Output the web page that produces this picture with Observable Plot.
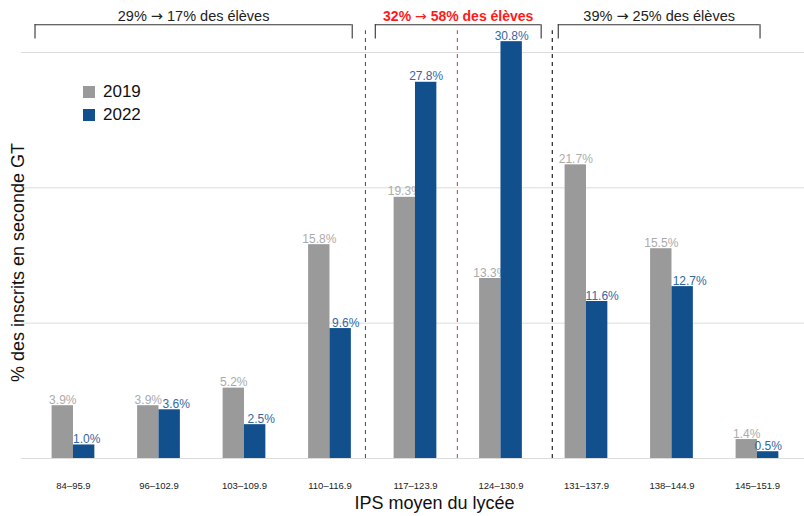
<!DOCTYPE html>
<html>
<head>
<meta charset="utf-8">
<script src="https://cdn.jsdelivr.net/npm/d3@7"></script>
<script src="https://cdn.jsdelivr.net/npm/@observablehq/plot@0.6"></script>
<style>
  html, body { margin: 0; padding: 0; background: #fff; }
  #wrap { position: relative; width: 804px; height: 516px; font-family: "Liberation Sans", Arial, Helvetica, sans-serif; }
  #legend { position: absolute; left: 83px; top: 80px; font-size: 17px; color: #111; line-height: 23px; }
  #legend .row { display: flex; align-items: center; }
  #legend .sw { width: 12px; height: 12px; margin-right: 8px; }
</style>
</head>
<body>
<div id="wrap"></div>
<script>
// ---- data ----
const categories = ["84–95.9", "96–102.9", "103–109.9", "110–116.9", "117–123.9", "124–130.9", "131–137.9", "138–144.9", "145–151.9"];
const values2019 = [3.9, 3.9, 5.2, 15.8, 19.3, 13.3, 21.7, 15.5, 1.4];
const values2022 = [1.0, 3.6, 2.5, 9.6, 27.8, 30.8, 11.6, 12.7, 0.5];
const years = ["2019", "2022"];
const gridValues = [0, 10, 20, 30];
const bracketStarts = [0.55, 4.53, 6.67];
const bracketEnds = [4.26, 6.47, 9.03];
const bracketLabels = ["29% → 17% des élèves", "32% → 58% des élèves", "39% → 25% des élèves"];
const separators = [4.415, 5.49, 6.6];
const separatorColors = ["#555555", "#f04040", "#111111"];
const xTitle = "IPS moyen du lycée";
const yTitle = "% des inscrits en seconde GT";

// small horizontal nudges (px) of the 2022 value labels, as in the reference (repelled labels)
const nudge2022 = [2.5, 6.5, 6, 5, 0, 0, 5, 7, 0];

const colGray = "#9a9a9a", colBlue = "#114f8d";
const txtGray = "#ababab", txtBlue = "#3368a5";

const rows2019 = categories.map((c, i) => ({idx: i + 1, cat: c, v: values2019[i]}));
const rows2022 = categories.map((c, i) => ({idx: i + 1, cat: c, v: values2022[i], n: nudge2022[i]}));
const brackets = bracketLabels.map((l, i) => ({a: bracketStarts[i], b: bracketEnds[i], label: l, mid: (bracketStarts[i] + bracketEnds[i]) / 2, hl: i === 1}));
const seps = separators.map((s, i) => ({x: s, color: separatorColors[i]}));
const bracketTop = 32.05, bracketBottom = 31.0, bracketText = 32.68, sepTop = 31.6;

const fmt = v => v.toFixed(1) + "%";

const chart = Plot.plot({
  width: 804,
  height: 516,
  marginLeft: 21,
  marginRight: 0,
  marginTop: 52,
  marginBottom: 58,
  style: {fontFamily: "'Liberation Sans', Arial, Helvetica, sans-serif", background: "white", overflow: "visible"},
  x: {domain: [0.392, 9.55], axis: null},
  y: {domain: [0, 30], axis: null},
  marks: [
    Plot.ruleY(gridValues, {stroke: "#dcdcdc", strokeWidth: 1}),
    Plot.axisX(d3.range(1, categories.length + 1), {
      tickSize: 0, tickPadding: 24, fontSize: 9.5, fill: "#222",
      tickFormat: d => categories[d - 1], label: null
    }),
    Plot.rectY(rows2019, {x1: d => d.idx - 0.25, x2: d => d.idx, y: "v", fill: colGray}),
    Plot.text(rows2019, {x: d => d.idx - 0.125, y: "v", text: d => fmt(d.v), fill: txtGray, fontSize: 12, lineAnchor: "bottom", dy: -2}),
    Plot.rectY(rows2022, {x1: d => d.idx, x2: d => d.idx + 0.25, y: "v", fill: colBlue}),
    ...rows2022.map(r => Plot.text([r], {x: d => d.idx + 0.125, y: "v", text: d => fmt(d.v), fill: txtBlue, fontSize: 12, lineAnchor: "bottom", dy: -2, dx: r.n})),
    Plot.ruleX(seps, {x: "x", y1: 0, y2: sepTop, stroke: "color", strokeWidth: 1.1, strokeDasharray: "4,4"}),
    Plot.ruleY(brackets, {x1: "a", x2: "b", y: bracketTop, stroke: "#333", strokeWidth: 1.1}),
    Plot.ruleX(brackets, {x: "a", y1: bracketBottom, y2: bracketTop, stroke: "#333", strokeWidth: 1.1}),
    Plot.ruleX(brackets, {x: "b", y1: bracketBottom, y2: bracketTop, stroke: "#333", strokeWidth: 1.1}),
    Plot.text(brackets.filter(d => !d.hl), {x: "mid", y: bracketText, text: "label", fontSize: 14.5, fill: "#222", className: "arrowtxt"}),
    Plot.text(brackets.filter(d => d.hl), {x: "mid", y: bracketText, text: "label", fontSize: 14, fontWeight: "bold", fill: "#ff1a1a", className: "arrowtxt"}),
    Plot.text([xTitle], {frameAnchor: "bottom", text: d => d, fontSize: 18, fill: "#111", dx: 21.5, dy: 50}),
    Plot.text([yTitle], {frameAnchor: "left", textAnchor: "middle", text: d => d, fontSize: 18, fill: "#111", rotate: -90, dx: -3, dy: 7})
  ]
});

// render the arrow glyph with a font that has a wider arrow
d3.select(chart).selectAll(".arrowtxt text").each(function() {
  const t = this.textContent;
  const parts = t.split("→");
  if (parts.length !== 2) return;
  const sel = d3.select(this);
  sel.text(null);
  sel.append("tspan").text(parts[0]);
  sel.append("tspan").style("font-family", "'DejaVu Sans'").style("font-weight", "normal").text("→");
  sel.append("tspan").text(parts[1]);
});

const wrap = document.getElementById("wrap");
wrap.appendChild(chart);

const legend = document.createElement("div");
legend.id = "legend";
[[years[0], colGray], [years[1], colBlue]].forEach(([y, c]) => {
  const r = document.createElement("div");
  r.className = "row";
  r.innerHTML = `<div class="sw" style="background:${c}"></div><span>${y}</span>`;
  legend.appendChild(r);
});
wrap.appendChild(legend);
</script>
</body>
</html>
